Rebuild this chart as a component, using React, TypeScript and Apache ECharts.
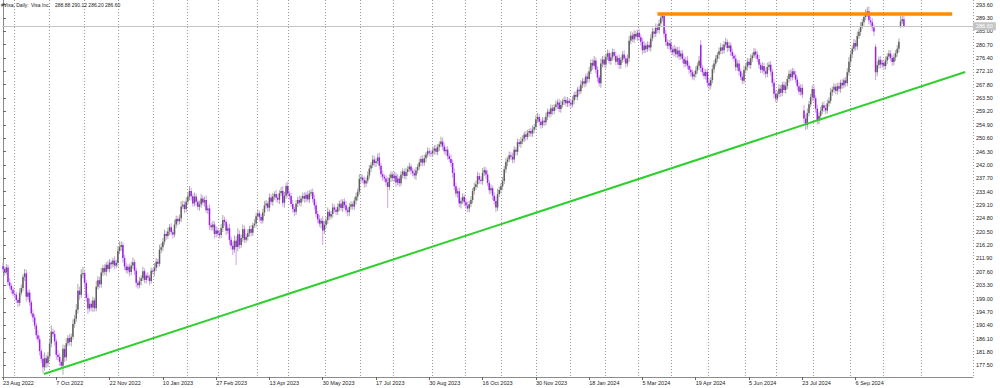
import React, { useEffect, useRef } from 'react';
import * as echarts from 'echarts';

// ---- DATA ----
const closes2022 = [
  208.5, 207.5, 209.0, 204.2, 203.1, 201.8, 200.5,
  200.2, 198.5, 197.6, 200.8, 202.4, 205.9, 207.1, 199.6, 200.9, 197.8, 194.2, 192.9, 190.3, 187.2, 185.9, 182.1, 179.6, 176.9, 179.8, 178.2, 180.4,
  184.5, 188.3, 187.6, 185.2, 180.9, 180.2, 178.6, 177.4, 182.8, 180.1, 184.6, 186.3, 185.0, 186.7, 190.8, 192.5, 195.4, 201.5, 200.2, 206.8, 207.2,
  204.0, 199.2, 195.8, 197.3, 196.1, 198.4, 195.9, 202.8, 204.9, 203.6, 207.4, 208.8, 207.6, 209.9, 208.5, 210.6, 210.0, 211.2, 209.6, 210.4, 214.3,
  215.6, 216.2, 212.0, 209.3, 208.1, 209.2, 207.5, 209.6, 210.7, 207.9, 204.1, 203.3, 204.6, 205.5, 207.8, 205.0, 206.3, 205.8, 204.6, 207.9, 207.8,
];
const closes2023H1 = [
  208.9, 210.8, 210.2, 214.7, 215.5, 217.3, 219.8, 219.1, 220.6, 221.9, 220.3, 219.6, 222.8, 224.6, 223.9, 224.8, 228.6, 229.2, 227.8, 230.2,
  231.8, 233.6, 231.9, 229.6, 231.8, 230.1, 228.5, 229.3, 231.2, 229.9, 230.7, 227.4, 228.0, 222.6, 221.9, 222.8, 219.8, 220.9, 219.9,
  219.4, 221.7, 224.3, 223.6, 220.8, 221.6, 217.9, 216.0, 214.8, 217.6, 215.6, 219.7, 216.2, 218.5, 221.3, 217.9, 218.8, 220.0, 221.4, 220.2, 222.6, 223.1, 225.5,
  226.4, 225.2, 224.1, 226.7, 228.9, 229.6, 228.2, 231.5, 230.1, 231.8, 232.6, 231.4, 230.8, 232.9, 233.6, 229.8, 232.1, 235.2, 232.7,
  232.0, 229.4, 227.8, 226.9, 229.5, 230.7, 229.8, 231.2, 232.0, 231.1, 232.4, 230.9, 232.8, 233.2, 231.0, 229.0, 226.2, 224.5, 223.1, 224.0, 220.9, 222.7,
  224.2, 226.9, 225.4, 226.2, 228.3, 227.6, 226.9, 228.4, 229.5, 228.1, 230.2, 229.0, 227.4, 226.8, 228.5, 229.3, 228.6, 230.5, 231.8, 233.4, 237.5,
];
const closes2023H2 = [
  237.9, 237.1, 236.0, 236.9, 238.6, 240.8, 241.9, 243.7, 242.6, 243.2, 244.4, 241.7, 239.0, 238.2, 237.6, 236.4, 234.9, 237.8, 238.9, 237.7,
  238.5, 236.3, 237.6, 236.1, 238.8, 239.9, 238.4, 239.7, 240.6, 241.5, 240.1, 239.3, 238.6, 240.2, 241.4, 242.8, 243.9, 242.7, 244.1, 245.3, 246.4, 245.9, 245.7,
  246.6, 247.3, 246.2, 247.8, 248.6, 249.5, 247.9, 246.4, 246.9, 244.8, 243.9, 242.6, 239.4, 235.1, 232.8, 233.5, 229.6, 230.4, 231.7, 230.0,
  228.9, 228.0, 229.4, 230.7, 233.6, 234.9, 235.8, 238.4, 237.2, 236.8, 239.5, 240.3, 238.9, 236.2, 233.8, 234.5, 232.1, 230.4, 228.3, 232.6, 233.9, 235.1,
  236.8, 240.6, 242.9, 243.8, 245.1, 244.6, 243.7, 246.9, 246.2, 249.3, 248.7, 249.6, 250.4, 251.8, 251.0, 252.3, 252.9, 252.1, 253.4, 254.2, 256.7,
  257.4, 255.9, 254.8, 256.2, 255.7, 257.5, 259.1, 258.4, 260.2, 259.3, 260.6, 261.4, 262.1, 260.0, 261.3, 262.4, 262.9, 261.8, 262.6, 261.9,
];
const closes2024H1 = [
  261.4, 262.8, 264.5, 263.9, 266.2, 265.7, 267.8, 268.9, 268.2, 270.4, 269.6, 272.1, 274.8, 273.9, 275.6, 272.6, 270.1, 268.3, 274.6, 275.9, 274.3,
  276.8, 277.9, 275.4, 276.6, 278.3, 277.1, 275.2, 276.4, 274.1, 275.8, 277.5, 276.2, 274.6, 276.3, 281.9, 283.6, 282.4, 284.1, 283.2, 284.5,
  283.1, 281.6, 278.9, 280.4, 279.2, 280.6, 279.8, 282.7, 284.9, 284.2, 286.1, 285.4, 287.5, 289.3, 289.9, 284.2, 281.5, 280.3, 281.1, 279.1,
  278.2, 279.4, 277.6, 278.8, 276.9, 277.8, 276.1, 274.5, 275.6, 273.9, 272.6, 271.8, 270.4, 271.2, 272.4, 273.9, 275.5, 273.2, 271.8, 270.6, 271.9, 268.4,
  267.5, 269.3, 272.8, 274.6, 276.2, 277.4, 278.6, 279.8, 278.9, 280.7, 281.5, 279.6, 280.4, 278.3, 277.1, 276.2, 273.4, 274.6, 272.1, 270.3, 269.1, 272.5,
  273.6, 275.2, 274.1, 276.3, 277.2, 278.4, 277.5, 276.1, 274.2, 272.6, 273.8, 272.1, 271.3, 273.5, 274.2, 272.0, 268.4, 264.9, 263.3,
];
const closes2024H2 = [
  264.8, 266.5, 265.2, 267.8, 266.1, 267.4, 269.6, 271.3, 270.2, 272.1, 271.0, 269.4, 267.3, 265.5, 266.8, 264.6, 256.9, 254.8, 258.7, 261.5, 263.8, 266.4,
  263.4, 260.1, 256.3, 257.8, 259.4, 261.2, 260.3, 259.5, 261.8, 262.6, 265.4, 266.2, 267.1, 265.8, 267.3, 266.5, 268.4, 267.6, 269.2, 268.3, 271.8, 275.2,
  277.6, 279.4, 281.2, 280.1, 283.5, 284.8, 286.7, 287.9, 289.6, 290.8, 291.4, 288.5, 287.9, 286.2, 284.9, 271.8, 274.1, 275.8, 274.3, 274.9,
  273.8, 275.6, 276.9, 277.8, 276.4, 275.1, 276.6, 277.9, 279.4, 281.6, 288.2, 288.88, 286.6,
];
const firstOpen = 209.4;
// bars whose open gapped away from the previous close: [bar index, open]
const openGaps: [number, number][] = [[419, 280.6], [481, 259.5], [524, 280.0], [539, 286.5]];
// wick lengths above / below the candle body, in dollars
const wickUp = [
  1.2,0.8,1.1,0.9,1.4,0.7,1.0,1.3,0.9,0.6,1.5,1.1,0.8,1.4,1.2,0.9,1.0,0.7,1.3,1.1,
  0.9,1.6,1.2,0.8,1.4,1.9,1.0,1.3,1.7,2.1,1.0,1.2,0.9,1.5,1.1,0.8,1.4,1.2,1.6,0.9,
  1.3,1.0,1.5,1.2,1.8,2.2,1.3,1.6,2.0,1.1,0.9,1.4,1.7,1.0,1.2,0.8,1.9,1.3,1.1,1.5,
  1.0,1.2,0.8,1.3,1.1,0.7,0.9,1.4,1.0,1.6,1.8,1.2,0.9,1.1,1.3,0.8,1.0,1.2,1.5,0.9,
  1.1,0.8,1.3,1.0,1.4,0.9,0.7,1.2,0.8,1.1,0.9,1.5,1.2,1.0,1.6,1.3,1.1,1.4,0.9,1.2,
  1.0,1.3,0.8,1.5,1.1,0.9,1.2,1.7,1.3,1.0,1.4,1.2,1.6,1.1,0.9,1.3,1.0,0.8,1.2,1.4,
  0.9,1.1,1.5,1.0,1.3,0.8,1.2,1.0,1.4,0.9,1.1,1.3,1.6,1.0,0.8,1.2,1.5,1.1,1.3,1.7,
  1.4,1.9,1.2,1.0,1.5,1.1,0.9,1.3,1.0,1.2,0.8,1.4,1.1,1.3,0.9,1.0,1.2,1.5,1.1,0.8,
  1.3,1.0,1.2,0.9,1.4,1.1,1.0,1.3,1.6,1.2,1.0,1.5,0.9,1.1,1.3,0.8,1.2,1.0,1.4,0.9,
  1.1,1.2,0.8,1.3,1.0,0.9,1.2,1.4,1.1,1.0,1.3,0.9,1.5,1.2,1.0,1.4,0.8,1.1,1.3,1.0,
  0.9,1.2,1.0,1.4,0.8,1.1,1.3,0.9,1.2,1.0,0.8,1.1,1.3,1.0,1.5,1.2,0.9,1.1,1.0,1.3,
  1.2,1.0,1.4,1.1,0.9,1.3,1.5,1.0,1.2,0.8,1.1,1.6,1.2,1.0,0.9,1.3,1.1,1.4,0.8,1.2,
  1.0,0.9,1.3,1.1,1.2,0.8,1.0,1.4,1.1,0.9,1.2,1.0,1.3,1.1,0.9,1.2,1.0,0.8,1.3,1.1,
  1.2,0.9,1.0,1.6,1.3,1.1,0.8,1.2,1.0,1.4,1.1,1.5,1.2,0.9,1.3,1.0,1.2,0.8,1.1,1.3,
  1.0,1.2,0.9,1.3,1.1,1.4,1.0,1.2,1.5,1.1,0.9,1.3,1.0,1.2,0.8,1.1,1.4,1.7,1.2,1.0,
  1.3,1.1,1.4,0.9,1.2,1.0,1.3,1.1,0.8,1.2,1.0,1.4,1.1,0.9,1.2,1.0,0.8,1.1,1.3,1.0,
  1.2,1.4,1.0,0.9,1.2,1.1,1.3,1.0,0.8,1.2,1.1,0.9,1.3,1.0,1.2,1.4,0.9,1.1,1.0,1.2,
  0.9,1.1,1.3,1.0,1.2,0.8,1.1,1.4,1.0,1.2,0.9,1.3,1.5,1.1,1.2,1.4,1.0,1.2,0.9,1.6,
  1.1,1.3,1.0,1.2,0.9,1.4,1.1,1.0,1.3,0.8,1.2,1.0,1.1,1.3,0.9,1.2,1.6,1.4,1.0,1.2,
  1.1,0.9,1.3,1.0,1.2,1.4,0.9,1.1,1.0,1.3,1.2,1.0,1.4,1.1,1.2,1.3,1.1,1.0,1.2,0.9,
  1.1,1.3,1.0,1.2,0.8,1.1,1.3,1.0,1.2,0.9,1.1,1.4,1.0,1.2,0.9,1.1,1.3,1.0,1.6,1.6,
  1.0,1.2,0.9,1.1,1.3,1.0,1.4,1.2,1.1,0.9,1.2,1.3,1.0,1.1,1.4,0.9,1.2,1.0,1.1,0.8,
  1.3,1.0,1.2,0.9,1.1,1.4,1.0,1.2,1.1,1.3,0.9,1.2,1.0,1.1,1.3,0.8,1.2,1.0,1.1,1.4,
  1.0,1.2,0.9,1.3,1.1,1.0,1.4,1.2,0.9,1.1,1.3,1.0,1.2,1.4,1.1,0.9,1.2,1.0,1.3,1.1,
  1.2,1.8,1.3,1.5,1.1,1.0,1.2,1.4,1.0,1.3,1.1,1.2,0.9,1.3,1.0,1.2,1.1,1.4,1.0,1.2,
  0.9,1.1,1.3,1.0,1.2,0.8,1.1,1.3,1.5,1.2,1.0,1.3,1.1,1.4,1.0,1.2,1.1,0.9,1.3,1.4,
  1.6,1.2,1.3,1.0,0.8,1.3,1.1,1.2,0.9,1.1,1.3,1.0,1.2,1.1,0.9,1.3,1.0,1.2,1.1,1.8,
  1.1,1.24,
];
const wickDn = [
  0.9,1.2,0.8,1.1,1.0,1.3,0.7,1.2,0.9,1.4,1.0,0.8,1.1,1.3,1.6,1.0,1.2,0.9,1.5,1.1,
  1.3,1.0,1.4,1.2,1.9,1.1,1.5,1.3,1.0,1.2,0.9,1.4,1.6,1.1,1.3,1.0,2.9,1.5,1.2,1.0,
  1.1,1.4,0.9,1.2,1.0,1.3,1.6,1.0,1.2,1.5,1.3,1.8,1.0,1.2,1.4,1.1,1.0,0.9,1.3,1.1,
  1.2,1.0,1.4,0.9,1.1,1.3,1.0,1.2,0.8,1.1,1.0,1.3,1.5,1.1,0.9,1.2,1.4,1.0,1.1,1.3,
  1.5,1.2,1.0,1.3,0.9,1.1,1.2,1.0,1.4,0.8,1.1,1.6,1.0,1.2,0.9,1.1,1.3,1.0,1.2,0.9,
  1.2,1.0,1.3,0.9,1.1,1.4,1.0,1.2,0.8,1.3,1.1,1.0,1.2,1.4,1.1,0.9,1.3,1.0,1.2,1.1,
  1.0,1.3,0.9,1.2,1.5,1.1,1.0,1.4,1.2,0.9,1.1,1.0,1.3,1.2,1.4,1.0,1.6,1.3,1.8,1.1,
  5.8,1.4,1.2,1.0,1.3,1.1,0.9,1.2,1.0,1.3,1.1,0.9,1.2,1.0,1.4,1.1,0.9,1.2,1.0,1.3,
  1.1,0.9,1.2,1.0,1.3,1.1,1.4,1.0,1.2,1.5,1.0,1.1,1.3,0.9,1.2,1.4,1.0,1.1,0.9,1.2,
  1.0,1.3,1.1,0.9,1.2,1.0,1.1,1.4,1.2,1.3,1.0,1.5,4.7,1.2,1.0,1.3,1.1,0.9,1.2,1.0,
  1.1,1.0,1.2,0.9,1.3,1.1,1.0,1.4,1.2,0.9,1.1,1.0,1.2,1.3,0.9,1.2,1.0,1.4,1.1,0.9,
  1.0,1.2,0.9,1.1,1.3,1.0,1.2,1.1,1.4,1.0,1.2,6.8,1.1,1.3,1.0,1.2,1.4,0.9,1.1,1.0,
  1.2,1.0,1.1,1.3,0.9,1.2,1.0,1.1,1.4,1.0,0.9,1.2,1.1,1.0,1.3,0.9,1.1,1.2,1.0,1.3,
  1.0,1.1,1.3,0.9,1.2,1.0,1.4,1.1,1.0,1.2,1.5,1.3,1.1,1.4,1.2,1.6,1.0,1.3,1.1,1.2,
  1.3,1.0,1.1,1.2,0.9,1.1,1.3,1.0,1.2,1.1,1.4,1.0,1.2,1.1,1.3,1.2,1.5,1.1,1.0,1.2,
  1.1,1.0,1.2,1.3,0.9,1.1,1.2,1.0,1.3,1.1,0.9,1.2,1.0,1.1,1.3,0.9,1.2,1.0,1.1,1.2,
  1.0,1.2,1.3,1.1,0.9,1.2,1.0,1.1,1.3,0.9,1.2,1.0,1.1,1.4,1.0,1.2,0.9,1.1,1.0,1.2,
  1.1,1.2,0.9,1.3,1.0,1.1,1.2,0.9,1.1,1.3,1.0,1.2,1.1,0.9,1.3,1.0,1.2,1.4,1.1,1.5,
  1.2,1.0,1.3,1.1,0.9,1.2,1.0,1.4,1.1,1.0,1.3,1.2,0.9,1.1,1.3,1.0,1.2,1.1,0.9,1.2,
  1.0,1.3,1.1,1.2,1.4,1.0,1.2,0.9,1.1,1.3,1.0,1.2,1.1,0.9,1.2,1.0,1.1,1.3,1.2,1.0,
  1.2,1.1,0.9,1.3,1.0,1.2,1.1,1.0,1.3,1.2,0.9,1.1,1.3,1.4,1.0,1.2,1.1,1.0,1.2,1.3,
  1.1,1.0,1.2,1.3,1.5,1.1,1.0,1.2,0.9,1.1,1.3,1.0,1.2,1.1,0.9,1.3,1.0,1.2,1.1,1.0,
  1.2,1.1,1.3,1.0,1.2,0.9,1.1,1.3,1.0,1.2,1.1,0.9,1.2,1.0,1.3,1.1,1.0,1.2,1.4,1.1,
  1.0,1.3,1.2,1.4,1.1,1.2,1.0,1.3,1.1,0.9,1.2,1.0,1.1,1.3,1.0,1.2,1.1,1.3,1.0,1.2,
  1.1,1.5,1.6,1.3,1.1,1.0,1.2,1.1,1.3,1.3,1.2,1.0,1.1,1.3,1.2,1.0,1.1,0.9,1.2,1.0,
  1.1,1.2,1.0,1.3,1.1,0.9,1.2,1.0,1.1,1.3,1.2,1.0,1.4,1.1,1.0,1.2,0.9,1.1,1.0,1.2,
  1.3,1.1,1.2,1.4,2.5,1.3,1.1,1.2,1.0,1.3,1.1,1.2,1.0,1.1,1.3,1.0,1.2,1.1,1.3,0.5,
  0.9,0.4,
];
const yTicks = [
  177.5, 181.8, 186.1, 190.4, 194.7, 199.0, 203.3, 207.6, 211.9, 216.2, 220.5, 224.8, 229.1, 233.4,
  237.7, 242.0, 246.3, 250.6, 254.9, 259.2, 263.5, 267.8, 272.1, 276.4, 280.7, 285.0, 289.3, 293.6,
];
const holidays = [
  '2022-09-05', '2022-11-24', '2022-12-26', '2023-01-02', '2023-01-16', '2023-02-20', '2023-04-07',
  '2023-05-29', '2023-06-19', '2023-07-04', '2023-09-04', '2023-11-23', '2023-12-25', '2024-01-01',
  '2024-01-15', '2024-02-19', '2024-03-29', '2024-05-27', '2024-06-19', '2024-07-04', '2024-09-02',
];
const firstDate = [2022, 7, 23];
const totalSlots = 583; // data bars + empty right shift
const labelEvery = 32;
const lastGridSlot = 552;
const supportLine = [[24.5, 174.7], [577.8, 271.9]];
const resistanceLine = [[393, 290.55], [570, 290.55]];
const bidPrice = 286.6;
const headerTexts = ['#Visa, Daily:', 'Visa Inc.', '288.88 290.12 286.20 286.60'];
const yRange = [173.75, 295.05];

// ---- layout ----
const headerX = [1, 31, 55];
const FONT = 'Liberation Sans';

// ---- helpers ----
const MONTHS = ['Jan', 'Feb', 'Mar', 'Apr', 'May', 'Jun', 'Jul', 'Aug', 'Sep', 'Oct', 'Nov', 'Dec'];
function buildCalendar(n: number) {
  const hol = new Set(holidays);
  const labels: string[] = [];
  const months: number[] = [];
  let t = Date.UTC(firstDate[0], firstDate[1], firstDate[2]);
  while (labels.length < n) {
    const d = new Date(t);
    const wd = d.getUTCDay();
    const iso = d.toISOString().slice(0, 10);
    if (wd !== 0 && wd !== 6 && !hol.has(iso)) {
      labels.push(`${d.getUTCDate()} ${MONTHS[d.getUTCMonth()]} ${d.getUTCFullYear()}`);
      months.push(d.getUTCFullYear() * 12 + d.getUTCMonth());
    }
    t += 86400000;
  }
  return { labels, months };
}

export default function App() {
  const ref = useRef<HTMLDivElement>(null);
  useEffect(() => {
    const el = ref.current;
    if (!el) return;
    const chart = echarts.init(el, undefined, { renderer: 'svg' });
    const closes = [...closes2022, ...closes2023H1, ...closes2023H2, ...closes2024H1, ...closes2024H2];
    const gapMap = new Map(openGaps);
    const candles = closes.map((c, i) => {
      const o = gapMap.has(i) ? (gapMap.get(i) as number) : i === 0 ? firstOpen : closes[i - 1];
      const h = Math.max(o, c) + (wickUp[i] ?? 1);
      const l = Math.min(o, c) - (wickDn[i] ?? 1);
      return [i, o, c, l, h];
    });
    const { labels, months } = buildCalendar(totalSlots);
    const nBars = closes.length;
    const isLabel = (idx: number) => idx % labelEvery === 0 && idx < nBars;
    const isMonthStart = (idx: number) => idx > 0 && idx <= lastGridSlot && months[idx] !== months[idx - 1];

    const option: any = {
      animation: false,
      backgroundColor: '#ffffff',
      textStyle: { fontFamily: FONT },
      grid: { left: 1, right: 27, top: 0, bottom: 11, containLabel: false },
      xAxis: [
        {
          type: 'category',
          data: labels,
          boundaryGap: true,
          axisLine: { show: true, lineStyle: { color: '#8c8c8c', width: 1 } },
          axisTick: { show: true, alignWithLabel: true, interval: isLabel, length: 3, lineStyle: { color: '#666' } },
          axisLabel: { show: true, interval: isLabel, align: 'left', fontSize: 5.5, color: '#222', margin: 3, fontFamily: FONT },
          splitLine: { show: true, interval: isMonthStart, lineStyle: { color: '#9a9a9a', type: [1, 2], width: 1 } },
        },
        { type: 'value', min: -0.5, max: totalSlots - 0.5, show: false, splitLine: { show: false } },
      ],
      yAxis: {
        type: 'value',
        position: 'right',
        min: yRange[0],
        max: yRange[1],
        axisLine: { show: true, lineStyle: { color: '#8c8c8c', width: 1 } },
        axisTick: { show: true, length: 3, customValues: yTicks, lineStyle: { color: '#666' } },
        axisLabel: {
          show: true, customValues: yTicks, fontSize: 5.5, color: '#222', margin: 3, fontFamily: FONT,
          formatter: (v: number) => v.toFixed(2),
        },
        splitLine: { show: false },
      },
      graphic: headerTexts.map((t, k) => ({
        type: 'text',
        x: headerX[k],
        y: 2,
        z: 100,
        style: { text: t, fontSize: 5, fontFamily: FONT, fill: '#222' },
      })),
      series: [
        {
          type: 'custom',
          xAxisIndex: 0,
          yAxisIndex: 0,
          data: candles,
          encode: { x: 0, y: [1, 2, 3, 4] },
          z: 2,
          silent: true,
          renderItem: (params: any, api: any) => {
            const i = api.value(0);
            const o = api.value(1);
            const c = api.value(2);
            const l = api.value(3);
            const h = api.value(4);
            const pO = api.coord([i, o]);
            const pC = api.coord([i, c]);
            const pL = api.coord([i, l]);
            const pH = api.coord([i, h]);
            const up = c >= o;
            const x = pO[0];
            const bw = 1.5;
            const top = Math.min(pO[1], pC[1]);
            const hh = Math.max(Math.abs(pO[1] - pC[1]), 1);
            return {
              type: 'group',
              children: [
                {
                  type: 'line',
                  shape: { x1: x, y1: pH[1], x2: x, y2: pL[1] },
                  style: { stroke: up ? '#a9a9a9' : '#d59ff0', lineWidth: 1 },
                },
                {
                  type: 'rect',
                  shape: { x: x - bw / 2, y: top, width: bw, height: hh },
                  style: { fill: up ? '#5e5e5e' : '#9b1fe8' },
                },
              ],
            };
          },
        },
        {
          type: 'line',
          xAxisIndex: 1,
          yAxisIndex: 0,
          data: supportLine,
          symbol: 'none',
          silent: true,
          z: 4,
          lineStyle: { color: '#2fcf2f', width: 2 },
        },
        {
          type: 'line',
          xAxisIndex: 1,
          yAxisIndex: 0,
          data: resistanceLine,
          symbol: 'none',
          silent: true,
          z: 4,
          lineStyle: { color: '#ff8c00', width: 3.5 },
          markLine: {
            silent: true,
            symbol: ['none', 'none'],
            data: [{ yAxis: bidPrice }],
            lineStyle: { color: '#c4c4c4', type: 'solid', width: 1 },
            label: {
              show: true,
              position: 'end',
              distance: 0,
              formatter: bidPrice.toFixed(2),
              backgroundColor: '#c4c4c4',
              color: '#ffffff',
              fontSize: 5.5,
              fontFamily: FONT,
              padding: [1, 3, 1, 3],
            },
            emphasis: { disabled: true },
          },
        },
      ],
    };
    chart.setOption(option);
    return () => chart.dispose();
  }, []);
  return (
    <div
      ref={ref}
      style={{ position: 'fixed', left: 0, top: 0, width: 1000, height: 388, background: '#ffffff' }}
    />
  );
}
